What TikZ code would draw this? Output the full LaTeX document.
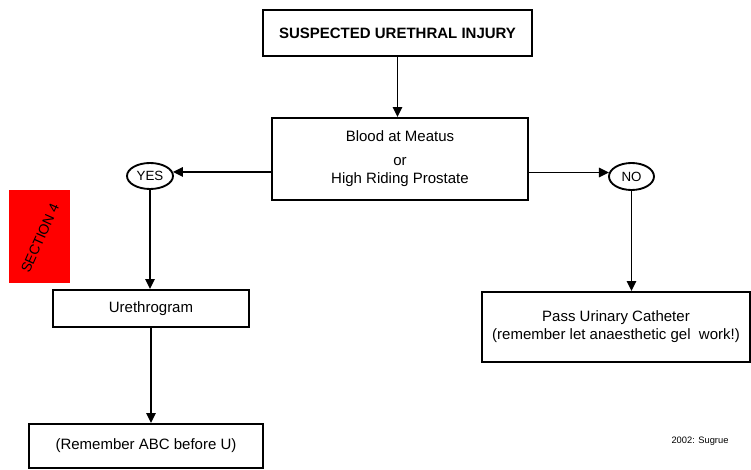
\documentclass[tikz,border=0pt]{standalone}
\usepackage{fontspec}
\setmainfont{Liberation Sans}
\usetikzlibrary{arrows.meta,shapes.geometric}
\tikzset{
  box/.style={draw, line width=1.4pt, inner sep=0pt, align=center,
    font=\fontsize{11.25}{13.5}\selectfont},
  oval/.style={draw, ellipse, line width=1.4pt, inner sep=0pt,
    font=\fontsize{10}{12}\selectfont},
  arr/.style={line width=1.4pt, -{Triangle[length=7.5pt,width=7pt]}},
}
\begin{document}
\begin{tikzpicture}[x=0.75pt,y=-0.75pt]
\useasboundingbox (0,0) rectangle (751,470);
\fill[red] (9,190) rectangle (70,283);
\node[rotate=66, font=\fontsize{10.5}{12}\selectfont, inner sep=0pt] (sectext) at (40,238) {SECTION 4};
\node[box, minimum width=201.75pt, minimum height=34.5pt,
  font=\fontsize{11.25}{13.5}\selectfont\bfseries] (top) at (397.5,33) {SUSPECTED URETHRAL INJURY};
\node[box, minimum width=192pt, minimum height=61.5pt] (mid) at (400,159)
  {Blood at Meatus\\[4.5pt]or\\High Riding Prostate};
\node[oval, minimum width=34.5pt, minimum height=19.5pt] (yes) at (150,176) {YES};
\node[oval, minimum width=33.75pt, minimum height=20.25pt] (no) at (631.5,176.5) {NO};
\node[box, minimum width=147pt, minimum height=27.75pt] (ureth) at (151,308.5) {Urethrogram};
\node[box, minimum width=175.5pt, minimum height=33pt] (rem) at (146,446) {(Remember ABC before U)};
\node[box, minimum width=201pt, minimum height=52.5pt] (pass) at (616,327)
  {Pass Urinary Catheter\\(remember let anaesthetic gel\ \ work!)};
\node[font=\fontsize{7}{8}\selectfont, inner sep=0pt] (sig) at (700,441) {2002: Sugrue};
\draw[arr] (top.south) -- (top.south |- mid.north);
\draw[arr] (mid.west |- yes.10) -- (yes.10);
\draw[arr] (mid.east |- no.170) -- (no.170);
\draw[arr] (yes.south) -- (yes.south |- ureth.north);
\draw[arr] (ureth.south) -- (ureth.south |- rem.north);
\draw[arr] (no.south) -- (no.south |- pass.north);
\end{tikzpicture}
\end{document}
